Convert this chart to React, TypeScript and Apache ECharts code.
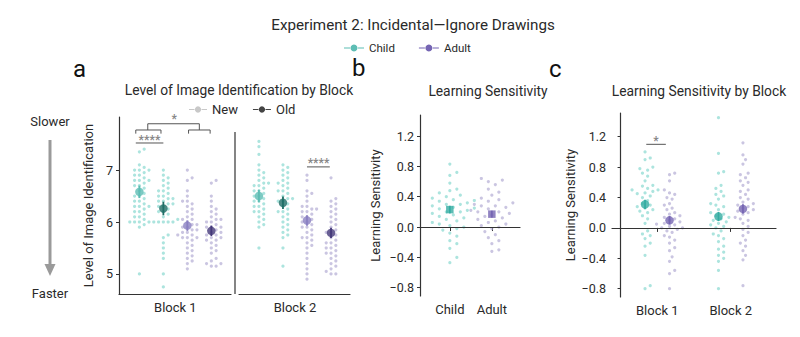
import React, { useEffect, useRef } from "react";
import * as echarts from "echarts";

const FONT = "Roboto, 'Liberation Sans Narrow', 'Noto Sans', sans-serif";

// ---------- texts ----------
const mainTitle = "Experiment 2: Incidental\u2014Ignore Drawings";
const groupNames = ["Child", "Adult"];
const itemTypes = ["New", "Old"];
const blockLabels = ["Block 1", "Block 2"];
const titleA = "Level of Image Identification by Block";
const titleB = "Learning Sensitivity";
const titleC = "Learning Sensitivity by Block";
const yNameA = "Level of Image Identification";
const yNameBC = "Learning Sensitivity";
const ticksA = [5, 6, 7];
const ticksBC = [-0.8, -0.4, 0, 0.4, 0.8, 1.2];

// ---------- panel a: individual scores (Block 1 / Block 2; child new, child old, adult new, adult old) ----------
const a1ChildNew = [7.4, 7.35, 7.1, 7.05, 7.0, 7.0, 7.0, 6.95, 6.9, 6.9, 6.85, 6.8, 6.8, 6.8, 6.75, 6.7, 6.7, 6.65, 6.6, 6.55, 6.5, 6.5, 6.45, 6.4, 6.4, 6.35, 6.3, 6.3, 6.3, 6.25, 6.2, 6.2, 6.15, 6.1, 6.1, 6.05, 6.0, 6.0, 6.0, 6.0, 5.95, 5.9, 5.0];
const a1ChildOld = [7.0, 6.9, 6.85, 6.8, 6.75, 6.7, 6.65, 6.6, 6.6, 6.55, 6.5, 6.5, 6.45, 6.45, 6.4, 6.4, 6.35, 6.35, 6.3, 6.3, 6.25, 6.2, 6.2, 6.15, 6.1, 6.05, 6.0, 6.0, 6.0, 6.0, 6.0, 5.75, 5.7, 5.6, 5.5, 5.4, 5.3, 5.0, 4.75];
const a1AdultNew = [7.0, 6.85, 6.8, 6.6, 6.5, 6.4, 6.4, 6.35, 6.3, 6.25, 6.2, 6.15, 6.1, 6.05, 6.05, 6.0, 5.95, 5.95, 5.9, 5.9, 5.85, 5.85, 5.8, 5.8, 5.75, 5.75, 5.7, 5.7, 5.7, 5.65, 5.6, 5.55, 5.5, 5.45, 5.4, 5.35, 5.3, 5.25, 5.2, 5.1];
const a1AdultOld = [6.8, 6.75, 6.5, 6.4, 6.3, 6.25, 6.2, 6.15, 6.1, 6.05, 6.05, 6.0, 6.0, 5.95, 5.9, 5.9, 5.9, 5.85, 5.8, 5.8, 5.75, 5.75, 5.7, 5.7, 5.65, 5.65, 5.6, 5.55, 5.5, 5.45, 5.4, 5.3, 5.25, 5.2, 5.2, 5.15, 5.15];
const a2ChildNew = [7.55, 7.45, 7.3, 7.1, 7.0, 6.95, 6.9, 6.85, 6.8, 6.75, 6.75, 6.7, 6.7, 6.65, 6.6, 6.6, 6.55, 6.5, 6.5, 6.45, 6.4, 6.4, 6.35, 6.3, 6.3, 6.25, 6.2, 6.2, 6.15, 6.1, 6.05, 6.0, 5.95, 5.9, 5.5];
const a2ChildOld = [7.1, 7.05, 7.0, 6.95, 6.9, 6.85, 6.8, 6.75, 6.75, 6.7, 6.65, 6.6, 6.6, 6.55, 6.5, 6.45, 6.45, 6.4, 6.4, 6.35, 6.3, 6.25, 6.2, 6.2, 6.15, 6.1, 6.05, 6.0, 5.95, 5.9, 5.85, 5.8, 5.75, 5.7, 5.5, 5.15];
const a2AdultNew = [6.9, 6.8, 6.6, 6.55, 6.5, 6.4, 6.3, 6.3, 6.25, 6.25, 6.2, 6.2, 6.15, 6.1, 6.1, 6.05, 6.0, 6.0, 5.95, 5.9, 5.9, 5.85, 5.8, 5.75, 5.7, 5.7, 5.65, 5.6, 5.55, 5.5, 5.4, 5.3, 5.2, 5.1, 5.0, 4.9];
const a2AdultOld = [6.85, 6.45, 6.4, 6.35, 6.3, 6.25, 6.2, 6.15, 6.1, 6.05, 6.0, 5.95, 5.9, 5.85, 5.8, 5.8, 5.75, 5.7, 5.65, 5.6, 5.6, 5.55, 5.5, 5.5, 5.45, 5.4, 5.4, 5.35, 5.3, 5.25, 5.2, 5.15, 5.1, 5.05, 5.0, 5.0];
const meansA1 = [6.58, 6.26, 5.93, 5.83];
const seA1 = [0.12, 0.13, 0.1, 0.1];
const meansA2 = [6.5, 6.37, 6.03, 5.79];
const seA2 = [0.12, 0.12, 0.1, 0.1];

// ---------- panel b ----------
const bChild = [0.83, 0.72, 0.68, 0.58, 0.5, 0.48, 0.45, 0.42, 0.4, 0.38, 0.36, 0.35, 0.34, 0.32, 0.3, 0.3, 0.28, 0.26, 0.25, 0.24, 0.22, 0.2, 0.2, 0.18, 0.16, 0.14, 0.12, 0.1, 0.08, 0.06, 0.04, 0.02, 0.0, -0.02, -0.04, -0.08, -0.12, -0.18, -0.22, -0.28, -0.4, -0.47];
const bAdult = [0.64, 0.62, 0.6, 0.56, 0.5, 0.46, 0.42, 0.38, 0.36, 0.34, 0.32, 0.3, 0.28, 0.28, 0.26, 0.24, 0.22, 0.2, 0.2, 0.18, 0.16, 0.14, 0.12, 0.1, 0.08, 0.06, 0.04, 0.02, 0.0, -0.02, -0.06, -0.1, -0.14, -0.18, -0.22, -0.3, -0.32];
const meansB = [0.23, 0.17];
const seB = [0.05, 0.045];

// ---------- panel c ----------
const c1Child = [1.0, 0.92, 0.9, 0.8, 0.78, 0.76, 0.72, 0.68, 0.62, 0.56, 0.55, 0.52, 0.5, 0.5, 0.48, 0.46, 0.45, 0.42, 0.4, 0.36, 0.32, 0.3, 0.28, 0.26, 0.24, 0.22, 0.2, 0.16, 0.12, 0.06, -0.04, -0.08, -0.1, -0.14, -0.2, -0.24, -0.36, -0.76, -0.8];
const c1Adult = [0.72, 0.7, 0.62, 0.5, 0.46, 0.44, 0.4, 0.38, 0.32, 0.3, 0.26, 0.24, 0.2, 0.18, 0.16, 0.14, 0.12, 0.1, 0.08, 0.06, 0.05, 0.04, 0.02, 0.0, 0.0, -0.02, -0.04, -0.06, -0.1, -0.12, -0.16, -0.2, -0.26, -0.3, -0.38, -0.44, -0.56, -0.6, -0.8];
const c2Child = [1.45, 0.98, 0.74, 0.72, 0.56, 0.52, 0.48, 0.44, 0.42, 0.38, 0.32, 0.3, 0.28, 0.24, 0.2, 0.18, 0.16, 0.14, 0.12, 0.1, 0.08, 0.06, 0.04, 0.02, 0.0, -0.04, -0.08, -0.1, -0.14, -0.18, -0.24, -0.28, -0.32, -0.36, -0.4, -0.44, -0.56, -0.8];
const c2Adult = [1.12, 0.96, 0.9, 0.84, 0.72, 0.7, 0.66, 0.62, 0.6, 0.56, 0.5, 0.48, 0.44, 0.4, 0.38, 0.34, 0.32, 0.3, 0.28, 0.26, 0.24, 0.22, 0.2, 0.18, 0.14, 0.12, 0.1, 0.06, 0.02, -0.02, -0.06, -0.1, -0.16, -0.2, -0.24, -0.3, -0.36, -0.42, -0.76];
const meansC = [0.31, 0.1, 0.15, 0.25];
const seC = [0.06, 0.055, 0.06, 0.06];

// ---------- colours ----------
const CHILD_PT = "rgba(125,212,204,0.8)";
const ADULT_PT = "rgba(172,164,208,0.8)";
const CHILD_NEW = "#5dbdb4";
const CHILD_OLD = "#1f6e66";
const ADULT_NEW = "#8a7fc2";
const ADULT_OLD = "#45397a";
const CHILD_MEAN = "#35aca2";
const ADULT_MEAN = "#7565b3";
const AXIS = "#333333";
const TEXT = "#2a2a2a";

// beeswarm layout (horizontal offsets computed from the values only)
function swarm(values: number[], center: number, pxPerY: number, pxPerX: number, d: number): number[][] {
  const idx = values.map((_, i) => i).sort((a, b) => values[a] - values[b]);
  const placed: { x: number; y: number }[] = [];
  const out: number[][] = new Array(values.length);
  for (const i of idx) {
    const y = values[i] * pxPerY;
    let x = 0;
    for (let step = 0; step < 400; step++) {
      const off = step === 0 ? 0 : (step % 2 === 1 ? 1 : -1) * Math.ceil(step / 2) * d * 0.5;
      if (placed.every((p) => (p.x - off) ** 2 + (p.y - y) ** 2 >= d * d)) {
        x = off;
        break;
      }
    }
    placed.push({ x, y });
    out[i] = [center + x / pxPerX, values[i]];
  }
  return out;
}

const PYA = 52, PXA = 24;
const PYB = 75.9, PXB = 42;
const PYC = 76, PXC = 24.5;

export default function App() {
  const ref = useRef<HTMLDivElement>(null);
  useEffect(() => {
    if (!ref.current) return;
    const chart = echarts.init(ref.current, null, { renderer: "svg" });

    const ptSeries = (data: number[], center: number, py: number, px: number, grid: number, color: string, d: number) => ({
      type: "scatter",
      xAxisIndex: grid,
      yAxisIndex: grid,
      symbolSize: 3.2,
      itemStyle: { color },
      silent: true,
      data: swarm(data, center, py, px, d),
      z: 2,
    });

    const errSeries = (grid: number, xs: number[], means: number[], se: number[], colors: string[]) => ({
      type: "custom",
      xAxisIndex: grid,
      yAxisIndex: grid,
      z: 4,
      silent: true,
      data: xs.map((x, i) => ({ value: [x, means[i] - se[i], means[i] + se[i]], itemStyle: { color: colors[i] } })),
      renderItem: (params: any, api: any) => {
        const p1 = api.coord([api.value(0), api.value(1)]);
        const p2 = api.coord([api.value(0), api.value(2)]);
        return {
          type: "line",
          shape: { x1: p1[0], y1: p1[1], x2: p2[0], y2: p2[1] },
          style: { stroke: api.visual("color"), lineWidth: 1.8 },
        };
      },
    });

    const meanSeries = (grid: number, xs: number[], means: number[], colors: string[], symbol = "circle", size = 8.5) => ({
      type: "scatter",
      xAxisIndex: grid,
      yAxisIndex: grid,
      symbol,
      symbolSize: size,
      z: 5,
      silent: true,
      data: xs.map((x, i) => ({ value: [x, means[i]], itemStyle: { color: colors[i] } })),
    });

    const lineSeg = (grid: number, data: any[]) => ({
      type: "line",
      xAxisIndex: grid,
      yAxisIndex: grid,
      symbol: "none",
      silent: true,
      connectNulls: false,
      lineStyle: { color: "#555", width: 1 },
      data,
      z: 3,
    });

    const sigText = (grid: number, x: number, y: number, text: string) => ({
      type: "scatter",
      xAxisIndex: grid,
      yAxisIndex: grid,
      symbolSize: 0,
      silent: true,
      data: [[x, y]],
      label: { show: true, position: "top", distance: 0, formatter: text, color: "#666", fontSize: 12, fontFamily: FONT, fontWeight: "bold" },
    });

    const yTicksFmt = (v: number) => (v < 0 ? "\u2212" + Math.abs(v).toFixed(1) : v.toFixed(1));

    const axisBase = {
      axisLine: { show: true, lineStyle: { color: AXIS, width: 1.2 } },
      splitLine: { show: false },
    };

    const legendIcon = "path://M0,3.4L6,3.4L6,4.6L0,4.6Z M14,3.4L20,3.4L20,4.6L14,4.6Z M10,0.5A3.5,3.5,0,1,1,9.99,0.5Z";

    const option: any = {
      animation: false,
      textStyle: { fontFamily: FONT },
      title: [
        { text: mainTitle, left: 408, top: 12, textAlign: "center", textStyle: { fontSize: 15.2, fontWeight: "normal", color: TEXT, fontFamily: FONT } },
        { text: titleA, left: 234, top: 78, textAlign: "center", textStyle: { fontSize: 13.8, fontWeight: "normal", color: TEXT, fontFamily: FONT } },
        { text: titleB, left: 483, top: 79, textAlign: "center", textStyle: { fontSize: 13.8, fontWeight: "normal", color: TEXT, fontFamily: FONT } },
        { text: titleC, left: 694, top: 79, textAlign: "center", textStyle: { fontSize: 13.8, fontWeight: "normal", color: TEXT, fontFamily: FONT } },
        { text: "a", left: 68, top: 52, textStyle: { fontSize: 24, fontWeight: "normal", color: "#111", fontFamily: FONT } },
        { text: "b", left: 347, top: 51, textStyle: { fontSize: 24, fontWeight: "normal", color: "#111", fontFamily: FONT } },
        { text: "c", left: 544, top: 52, textStyle: { fontSize: 24, fontWeight: "normal", color: "#111", fontFamily: FONT } },
      ],
      legend: [
        {
          data: groupNames,
          left: 339,
          top: 37,
          itemWidth: 20,
          itemHeight: 8,
          itemGap: 24,
          icon: legendIcon,
          textStyle: { fontSize: 11.5, color: TEXT, fontFamily: FONT },
          selectedMode: false,
        },
        {
          data: itemTypes,
          left: 184,
          top: 98,
          itemWidth: 18,
          itemHeight: 8,
          itemGap: 15,
          icon: legendIcon,
          textStyle: { fontSize: 13, color: TEXT, fontFamily: FONT },
          selectedMode: false,
        },
      ],
      grid: [
        { left: 119, top: 117, width: 112, height: 177 },
        { left: 239, top: 117, width: 111, height: 177 },
        { left: 420, top: 115, width: 100, height: 181 },
        { left: 612, top: 113, width: 164, height: 184 },
      ],
      xAxis: [
        {
          ...axisBase, type: "value", gridIndex: 0, min: 0.15, max: 4.82,
          axisTick: { show: false },
          axisLabel: { customValues: [2.5], formatter: () => blockLabels[0], color: TEXT, fontSize: 13, margin: 7, fontFamily: FONT },
        },
        {
          ...axisBase, type: "value", gridIndex: 1, min: 0.17, max: 4.79,
          axisTick: { show: false },
          axisLabel: { customValues: [2.5], formatter: () => blockLabels[1], color: TEXT, fontSize: 13, margin: 7, fontFamily: FONT },
        },
        {
          ...axisBase, type: "value", gridIndex: 2, min: 0.29, max: 2.67,
          axisTick: { show: true, customValues: [1, 2], length: 4, lineStyle: { color: AXIS } },
          axisLabel: { customValues: [1, 2], formatter: (v: number) => groupNames[Math.round(v) - 1], color: TEXT, fontSize: 13, margin: 7, fontFamily: FONT },
        },
        {
          ...axisBase, type: "value", gridIndex: 3, min: -0.35, max: 6.35,
          axisTick: { show: true, customValues: [1.5, 4.5], length: 4, lineStyle: { color: AXIS } },
          axisLabel: { customValues: [1.5, 4.5], formatter: (v: number) => (v < 3 ? blockLabels[0] : blockLabels[1]), color: TEXT, fontSize: 13, margin: 7, fontFamily: FONT },
        },
      ],
      yAxis: [
        {
          ...axisBase, type: "value", gridIndex: 0, min: 4.615, max: 8.02,
          name: yNameA, nameLocation: "middle", nameGap: 24, nameRotate: 90,
          nameTextStyle: { fontSize: 13, color: TEXT, fontFamily: FONT },
          axisTick: { show: true, customValues: ticksA, length: 3, lineStyle: { color: AXIS } },
          axisLabel: { customValues: ticksA, color: TEXT, fontSize: 12.5, margin: 6, fontFamily: FONT },
        },
        {
          type: "value", gridIndex: 1, min: 4.615, max: 8.02, show: false,
        },
        {
          ...axisBase, type: "value", gridIndex: 2, min: -0.909, max: 1.477,
          name: yNameBC, nameLocation: "middle", nameGap: 38, nameRotate: 90,
          nameTextStyle: { fontSize: 13, color: TEXT, fontFamily: FONT },
          axisTick: { show: true, customValues: ticksBC, length: 3, lineStyle: { color: AXIS } },
          axisLabel: { customValues: ticksBC, formatter: yTicksFmt, color: TEXT, fontSize: 12.5, margin: 6, fontFamily: FONT },
        },
        {
          ...axisBase, type: "value", gridIndex: 3, min: -0.909, max: 1.512,
          name: yNameBC, nameLocation: "middle", nameGap: 35, nameRotate: 90,
          nameTextStyle: { fontSize: 13, color: TEXT, fontFamily: FONT },
          axisTick: { show: true, customValues: ticksBC, length: 3, lineStyle: { color: AXIS } },
          axisLabel: { customValues: ticksBC, formatter: yTicksFmt, color: TEXT, fontSize: 12.5, margin: 6, fontFamily: FONT },
        },
      ],
      series: [
        // legend carriers
        { name: groupNames[0], type: "line", data: [], xAxisIndex: 0, yAxisIndex: 0, itemStyle: { color: CHILD_NEW }, lineStyle: { color: CHILD_NEW } },
        { name: groupNames[1], type: "line", data: [], xAxisIndex: 0, yAxisIndex: 0, itemStyle: { color: ADULT_MEAN }, lineStyle: { color: ADULT_MEAN } },
        { name: itemTypes[0], type: "line", data: [], xAxisIndex: 0, yAxisIndex: 0, itemStyle: { color: "#c8c8c8" }, lineStyle: { color: "#c8c8c8" } },
        { name: itemTypes[1], type: "line", data: [], xAxisIndex: 0, yAxisIndex: 0, itemStyle: { color: "#444" }, lineStyle: { color: "#444" } },

        // panel a points
        ptSeries(a1ChildNew, 1, PYA, PXA, 0, CHILD_PT, 4.8),
        ptSeries(a1ChildOld, 2, PYA, PXA, 0, CHILD_PT, 4.8),
        ptSeries(a1AdultNew, 3, PYA, PXA, 0, ADULT_PT, 4.8),
        ptSeries(a1AdultOld, 4, PYA, PXA, 0, ADULT_PT, 4.8),
        ptSeries(a2ChildNew, 1, PYA, PXA, 1, CHILD_PT, 4.8),
        ptSeries(a2ChildOld, 2, PYA, PXA, 1, CHILD_PT, 4.8),
        ptSeries(a2AdultNew, 3, PYA, PXA, 1, ADULT_PT, 4.8),
        ptSeries(a2AdultOld, 4, PYA, PXA, 1, ADULT_PT, 4.8),
        errSeries(0, [1, 2, 3, 4], meansA1, seA1, [CHILD_NEW, CHILD_OLD, ADULT_NEW, ADULT_OLD]),
        errSeries(1, [1, 2, 3, 4], meansA2, seA2, [CHILD_NEW, CHILD_OLD, ADULT_NEW, ADULT_OLD]),
        meanSeries(0, [1, 2, 3, 4], meansA1, [CHILD_NEW, CHILD_OLD, ADULT_NEW, ADULT_OLD]),
        meanSeries(1, [1, 2, 3, 4], meansA2, [CHILD_NEW, CHILD_OLD, ADULT_NEW, ADULT_OLD]),

        // panel a significance
        lineSeg(0, [[0.85, 7.52], [2.0, 7.52]]),
        sigText(0, 1.42, 7.46, "****"),
        lineSeg(0, [[0.85, 7.7], [0.85, 7.77], [1.9, 7.77], [1.9, 7.7], [null, null], [1.35, 7.77], [1.35, 7.89], [3.5, 7.89], [3.5, 7.77], [null, null], [3.05, 7.7], [3.05, 7.77], [3.95, 7.77], [3.95, 7.7]]),
        sigText(0, 2.45, 7.86, "*"),
        lineSeg(1, [[3.0, 7.06], [3.95, 7.06]]),
        sigText(1, 3.48, 7.02, "****"),

        // panel b
        {
          ...ptSeries(bChild, 1, PYB, PXB, 2, CHILD_PT, 7),
          markLine: { silent: true, symbol: "none", label: { show: false }, lineStyle: { color: AXIS, type: "solid", width: 1.2 }, data: [{ yAxis: 0 }] },
        },
        ptSeries(bAdult, 2, PYB, PXB, 2, ADULT_PT, 7),
        errSeries(2, [1, 2], meansB, seB, [CHILD_MEAN, ADULT_MEAN]),
        meanSeries(2, [1, 2], meansB, [CHILD_MEAN, ADULT_MEAN], "rect", 7.5),

        // panel c
        {
          ...ptSeries(c1Child, 1, PYC, PXC, 3, CHILD_PT, 5.2),
          markLine: { silent: true, symbol: "none", label: { show: false }, lineStyle: { color: AXIS, type: "solid", width: 1.2 }, data: [{ yAxis: 0 }] },
        },
        ptSeries(c1Adult, 2, PYC, PXC, 3, ADULT_PT, 5.2),
        ptSeries(c2Child, 4, PYC, PXC, 3, CHILD_PT, 5.2),
        ptSeries(c2Adult, 5, PYC, PXC, 3, ADULT_PT, 5.2),
        errSeries(3, [1, 2, 4, 5], meansC, seC, [CHILD_MEAN, ADULT_MEAN, CHILD_MEAN, ADULT_MEAN]),
        meanSeries(3, [1, 2, 4, 5], meansC, [CHILD_MEAN, ADULT_MEAN, CHILD_MEAN, ADULT_MEAN]),
        lineSeg(3, [[1.05, 1.1], [1.85, 1.1]]),
        sigText(3, 1.45, 1.07, "*"),
      ],
      graphic: [
        { type: "line", shape: { x1: 235, y1: 132, x2: 235, y2: 294 }, style: { stroke: AXIS, lineWidth: 1.2 } },
        { type: "text", x: 50, y: 121, style: { text: "Slower", fill: TEXT, fontSize: 13, fontFamily: FONT, textAlign: "center", textVerticalAlign: "middle" } },
        { type: "text", x: 50, y: 293, style: { text: "Faster", fill: TEXT, fontSize: 13, fontFamily: FONT, textAlign: "center", textVerticalAlign: "middle" } },
        { type: "line", shape: { x1: 50, y1: 140, x2: 50, y2: 266 }, style: { stroke: "#9a9a9a", lineWidth: 3 } },
        { type: "polygon", shape: { points: [[44.5, 264], [55.5, 264], [50, 276]] }, style: { fill: "#9a9a9a" } },
      ],
    };

    chart.setOption(option);
    return () => chart.dispose();
  }, []);

  return <div ref={ref} style={{ position: "absolute", left: 0, top: 0, width: 800, height: 337 }} />;
}
